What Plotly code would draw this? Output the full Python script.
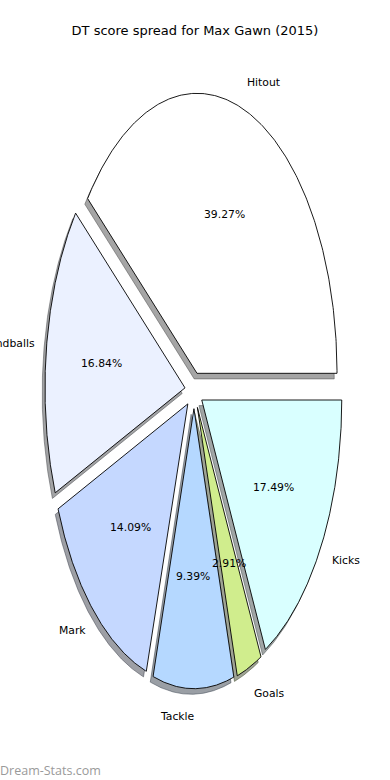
import numpy as np
import plotly.graph_objects as go

# ---- data ----
categories = ["Hitout", "Handballs", "Mark", "Tackle", "Goals", "Kicks"]
values = [39.27, 16.84, 14.09, 9.39, 2.91, 17.49]
colors = ["#ffffff", "#ebf1ff", "#c5d8ff", "#b5d8ff", "#d0ed8d", "#d9ffff"]
title_text = "DT score spread for Max Gawn (2015)"
watermark = "Dream-Stats.com"

# ---- styling ----
explode = 0.065
label_dist = 1.1
pct_dist = 0.6
shadow_off = (-0.02, -0.02)
W, H = 390, 780
cx_px, cy_px = 194.0, 390.5   # pie centre in pixels
sx, sy = 140.0, 280.0         # pixels per data unit

def hex_rgb(h):
    h = h.lstrip("#")
    return tuple(int(h[i:i + 2], 16) for i in (0, 2, 4))

fig = go.Figure()
total = float(sum(values))
fracs = [v / total for v in values]

wedges = []
start = 0.0
for cat, f, col in zip(categories, fracs, colors):
    end = start + f * 360.0
    mid = np.deg2rad((start + end) / 2)
    ox, oy = explode * np.cos(mid), explode * np.sin(mid)
    th = np.deg2rad(np.linspace(start, end, 240))
    xs = np.concatenate([[ox], ox + np.cos(th), [ox]])
    ys = np.concatenate([[oy], oy + np.sin(th), [oy]])
    wedges.append((cat, f, col, mid, ox, oy, xs, ys))
    start = end

# shadows first (below all wedges)
for cat, f, col, mid, ox, oy, xs, ys in wedges:
    r, g, b = hex_rgb(col)
    sc = "rgba(%d,%d,%d,0.5)" % (int(0.3 * r), int(0.3 * g), int(0.3 * b))
    fig.add_trace(go.Scatter(x=xs + shadow_off[0], y=ys + shadow_off[1], mode="lines",
                             fill="toself", fillcolor=sc, line=dict(color=sc, width=1),
                             hoverinfo="skip", showlegend=False))

for cat, f, col, mid, ox, oy, xs, ys in wedges:
    fig.add_trace(go.Scatter(x=xs, y=ys, mode="lines", fill="toself", fillcolor=col,
                             line=dict(color="black", width=0.9),
                             hoverinfo="skip", showlegend=False))

annotations = []
font_lbl = dict(family="DejaVu Sans", size=10.8, color="black")
for cat, f, col, mid, ox, oy, xs, ys in wedges:
    lx = ox + label_dist * np.cos(mid)
    ly = oy + label_dist * np.sin(mid)
    left = np.cos(mid) > 0
    annotations.append(dict(x=lx, y=ly, xref="x", yref="y", text=cat, showarrow=False,
                            xanchor="left" if left else "right",
                            xshift=-1 if left else 2,
                            yanchor="middle", font=font_lbl, borderpad=0, borderwidth=0))
    px = ox + pct_dist * np.cos(mid)
    py = oy + pct_dist * np.sin(mid)
    annotations.append(dict(x=px, y=py, xref="x", yref="y", text="%1.2f%%" % (f * 100),
                            showarrow=False, xanchor="center", yanchor="middle", font=font_lbl,
                            borderpad=0, borderwidth=0))

annotations.append(dict(x=0, y=1 - 770 / H, xref="paper", yref="paper", text=watermark,
                        showarrow=False, xanchor="left", yanchor="middle",
                        borderpad=0, borderwidth=0,
                        font=dict(family="Open Sans", size=12.5, color="#9a9a9a")))

fig.update_layout(
    width=W, height=H,
    margin=dict(l=0, r=0, t=0, b=0),
    paper_bgcolor="white", plot_bgcolor="white",
    title=dict(text=title_text, x=195 / W, xanchor="center", y=1 - 30 / H, yanchor="middle",
               yref="container", font=dict(family="DejaVu Sans", size=13, color="black")),
    xaxis=dict(range=[-cx_px / sx, (W - cx_px) / sx], visible=False, fixedrange=True),
    yaxis=dict(range=[-(H - cy_px) / sy, cy_px / sy], visible=False, fixedrange=True),
    annotations=annotations,
    showlegend=False,
)

fig.write_html("out.html", config={"displayModeBar": False},
               post_script="document.body.style.margin='0';document.body.style.overflow='hidden';")
